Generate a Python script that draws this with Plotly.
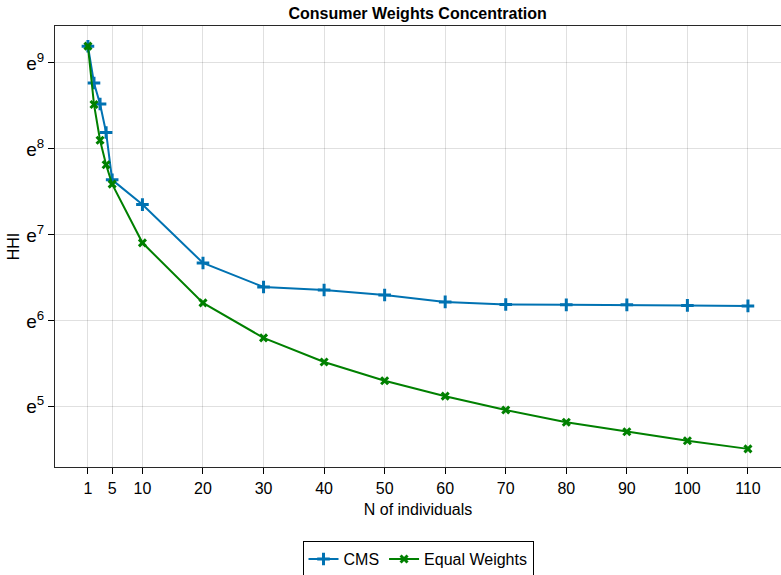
import math
import plotly.graph_objects as go

# Number of individuals in the group
n_individuals = [1, 2, 3, 4, 5, 10, 20, 30, 40, 50, 60, 70, 80, 90, 100, 110]

# Herfindahl-Hirschman index for each weighting scheme
hhi_cms = [9850, 6420, 5030, 3610, 2080, 1560, 791, 598, 578, 545, 503, 488, 486, 486, 483, 480]
hhi_equal = [9850, 5000, 3300, 2480, 1980, 1000, 497, 331, 250, 201, 168, 143, 124, 111, 100, 91]

x_ticks = [1, 5, 10, 20, 30, 40, 50, 60, 70, 80, 90, 100, 110]
y_powers = [5, 6, 7, 8, 9]

FONT = "Liberation Sans, Arial, sans-serif"
BLUE = "rgb(0,114,178)"
GREEN = "rgb(0,128,0)"
GRID = "rgba(0,0,0,0.12)"

fig = go.Figure()
fig.add_trace(go.Scatter(
    x=n_individuals, y=hhi_cms, name="CMS", mode="lines+markers",
    line=dict(color=BLUE, width=2),
    marker=dict(symbol="cross-thin", size=9, color=BLUE,
                line=dict(color=BLUE, width=3)),
))
fig.add_trace(go.Scatter(
    x=n_individuals, y=hhi_equal, name="Equal Weights", mode="lines+markers",
    line=dict(color=GREEN, width=2),
    marker=dict(symbol="x-thin", size=7, color=GREEN,
                line=dict(color=GREEN, width=3)),
))

log10e = 1 / math.log(10)
fig.update_layout(
    width=781, height=575,
    margin=dict(l=55, r=0, t=26, b=108, autoexpand=False),
    paper_bgcolor="white", plot_bgcolor="white",
    font=dict(family=FONT, size=16, color="black"),
    title=dict(text="<b>Consumer Weights Concentration</b>", x=0.5347, xanchor="center",
               y=0.976, yanchor="middle", font=dict(size=16)),
    showlegend=True,
    legend=dict(orientation="h", x=0.5, xanchor="center",
                yref="container", y=0.059, yanchor="top",
                bordercolor="black", borderwidth=1, font=dict(size=16),
                itemwidth=30, tracegroupgap=0),
    xaxis=dict(
        range=[-4.44, 115.46], tickmode="array", tickvals=x_ticks,
        ticks="outside", ticklen=6, tickcolor="black", automargin=False,
        showline=True, linecolor="rgb(40,40,40)", linewidth=1, mirror=True,
        showgrid=True, gridcolor=GRID, zeroline=False,
        title=dict(text="N of individuals", standoff=7, font=dict(size=16)),
        tickfont=dict(size=16), ticklabelstandoff=1,
    ),
    yaxis=dict(
        type="log", range=[4.30 * log10e, 9.43 * log10e],
        tickmode="array", tickvals=[math.exp(p) for p in y_powers],
        ticktext=[f"e<sup>{p}</sup>" for p in y_powers],
        ticks="outside", ticklen=6, tickcolor="black", automargin=False,
        showline=True, linecolor="rgb(40,40,40)", linewidth=1, mirror=False,
        showgrid=True, gridcolor=GRID, zeroline=False,
        title=dict(text="HHI", standoff=2, font=dict(size=16)),
        tickfont=dict(size=19),
    ),
)

fig.write_html("out.html")
